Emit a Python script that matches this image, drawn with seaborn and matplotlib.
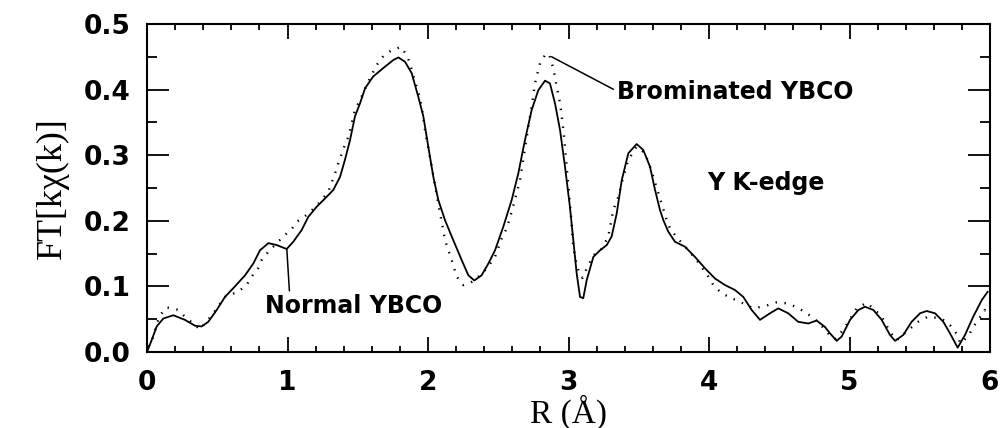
import pandas as pd
import seaborn as sns
import matplotlib.pyplot as plt
from matplotlib.ticker import MultipleLocator, FormatStrFormatter

# Normal YBCO (solid line)
r_normal = [0.0, 0.033, 0.069, 0.116, 0.187, 0.27, 0.342, 0.389, 0.436, 0.496,
            0.555, 0.626, 0.698, 0.757, 0.804, 0.864, 0.923, 0.994, 1.041, 1.101,
            1.148, 1.208, 1.267, 1.326, 1.374, 1.409, 1.445, 1.48, 1.516, 1.552,
            1.61, 1.694, 1.753, 1.789, 1.836, 1.884, 1.931, 1.967, 2.002, 2.038,
            2.073, 2.121, 2.169, 2.24, 2.287, 2.33, 2.382, 2.43, 2.477, 2.536,
            2.596, 2.643, 2.69, 2.738, 2.785, 2.833, 2.868, 2.904, 2.94, 2.975,
            3.01, 3.034, 3.058, 3.082, 3.105, 3.13, 3.177, 3.224, 3.272, 3.307,
            3.343, 3.379, 3.426, 3.485, 3.532, 3.58, 3.616, 3.651, 3.675, 3.71,
            3.758, 3.829, 3.9, 3.972, 4.043, 4.114, 4.185, 4.244, 4.304, 4.363,
            4.434, 4.493, 4.564, 4.635, 4.707, 4.766, 4.826, 4.861, 4.909, 4.944,
            5.004, 5.063, 5.11, 5.17, 5.229, 5.288, 5.324, 5.383, 5.442, 5.502,
            5.549, 5.609, 5.668, 5.715, 5.77, 5.822, 5.881, 5.941, 5.984]
ft_normal = [0.0, 0.018, 0.039, 0.051, 0.056, 0.049, 0.040, 0.039, 0.046, 0.064,
             0.084, 0.100, 0.117, 0.135, 0.155, 0.166, 0.163, 0.157, 0.168, 0.186,
             0.206, 0.2215, 0.234, 0.247, 0.267, 0.293, 0.323, 0.359, 0.379, 0.402,
             0.42, 0.435, 0.445, 0.449, 0.4425, 0.425, 0.389, 0.359, 0.313, 0.267,
             0.232, 0.201, 0.176, 0.140, 0.117, 0.109, 0.117, 0.135, 0.155, 0.191,
             0.232, 0.2725, 0.323, 0.369, 0.399, 0.4136, 0.4095, 0.379, 0.338, 0.2825,
             0.2215, 0.171, 0.12, 0.084, 0.082, 0.11, 0.145, 0.155, 0.163, 0.176,
             0.211, 0.262, 0.303, 0.317, 0.308, 0.2825, 0.247, 0.2165, 0.201, 0.1835,
             0.168, 0.1605, 0.145, 0.1275, 0.112, 0.102, 0.0945, 0.084, 0.064, 0.049,
             0.059, 0.0665, 0.059, 0.046, 0.0435, 0.048, 0.038, 0.0285, 0.017, 0.0235,
             0.049, 0.064, 0.069, 0.064, 0.049, 0.026, 0.017, 0.026, 0.046, 0.059,
             0.0625, 0.059, 0.046, 0.0285, 0.0066, 0.026, 0.054, 0.079, 0.092]

# Brominated YBCO (dotted line)
r_brom = [0.01, 0.045, 0.069, 0.093, 0.14, 0.211, 0.27, 0.377, 0.472, 0.555,
          0.65, 0.709, 0.745, 0.792, 0.816, 0.864, 0.97, 1.03, 1.077, 1.15,
          1.22, 1.29, 1.338, 1.362, 1.409, 1.433, 1.48, 1.516, 1.575, 1.635,
          1.682, 1.741, 1.808, 1.848, 1.872, 1.907, 1.931, 1.955, 1.979, 2.02,
          2.073, 2.097, 2.121, 2.145, 2.169, 2.204, 2.251, 2.30, 2.36, 2.42,
          2.477, 2.524, 2.56, 2.596, 2.655, 2.69, 2.738, 2.762, 2.797, 2.833,
          2.86, 2.892, 2.916, 2.94, 2.964, 2.987, 3.018, 3.034, 3.058, 3.082,
          3.1, 3.14, 3.189, 3.237, 3.283, 3.319, 3.355, 3.39, 3.426, 3.485,
          3.545, 3.592, 3.64, 3.699, 3.722, 3.77, 3.853, 3.912, 3.995, 4.031,
          4.09, 4.162, 4.244, 4.315, 4.399, 4.482, 4.564, 4.64, 4.712, 4.78,
          4.85, 4.9, 4.96, 5.051, 5.122, 5.181, 5.229, 5.29, 5.336, 5.40,
          5.489, 5.56, 5.655, 5.715, 5.763, 5.79, 5.846, 5.881, 5.917, 5.96,
          6.0]
ft_brom = [0.008, 0.023, 0.043, 0.056, 0.068, 0.065, 0.054, 0.0345, 0.059, 0.084,
           0.092, 0.102, 0.115, 0.128, 0.140, 0.153, 0.176, 0.1875, 0.200, 0.211,
           0.226, 0.244, 0.272, 0.2875, 0.316, 0.328, 0.369, 0.384, 0.412, 0.4375,
           0.451, 0.460, 0.465, 0.4525, 0.44, 0.412, 0.397, 0.374, 0.338, 0.29,
           0.2265, 0.199, 0.171, 0.155, 0.140, 0.115, 0.102, 0.105, 0.115, 0.128,
           0.145, 0.173, 0.1885, 0.214, 0.262, 0.31, 0.375, 0.41, 0.44, 0.4527,
           0.455, 0.4325, 0.4045, 0.379, 0.338, 0.2825, 0.206, 0.16, 0.1325, 0.117,
           0.113, 0.1325, 0.15, 0.1575, 0.176, 0.2165, 0.237, 0.267, 0.293, 0.313,
           0.303, 0.275, 0.242, 0.201, 0.1885, 0.175, 0.155, 0.14, 0.115, 0.102,
           0.0895, 0.082, 0.074, 0.0665, 0.070, 0.0757, 0.074, 0.0665, 0.0565, 0.045,
           0.028, 0.02, 0.035, 0.0665, 0.075, 0.064, 0.054, 0.03, 0.018, 0.03,
           0.046, 0.054, 0.051, 0.041, 0.0275, 0.013, 0.0244, 0.0386, 0.049, 0.064,
           0.06]

x_ticks = [0, 1, 2, 3, 4, 5, 6]
y_ticks = [0.0, 0.1, 0.2, 0.3, 0.4, 0.5]

normal = pd.DataFrame({"R": r_normal, "FT": ft_normal})
brom = pd.DataFrame({"R": r_brom, "FT": ft_brom})

sns.set_style("ticks")
sans = ["DejaVu Sans"]
serif = ["Liberation Serif", "DejaVu Serif"]

fig = plt.figure(figsize=(10.02, 4.28), dpi=100)
ax = fig.add_axes([147 / 1002, 1 - 352 / 428, 843 / 1002, 328 / 428])

sns.lineplot(data=normal, x="R", y="FT", ax=ax, color="black", lw=1.3,
             sort=False, estimator=None)
sns.lineplot(data=brom, x="R", y="FT", ax=ax, color="black", lw=1.7,
             linestyle=(0, (0.6, 3.2)), sort=False, estimator=None)

ax.set_xlim(0, 6)
ax.set_ylim(0, 0.5)
ax.set_xticks(x_ticks)
ax.set_yticks(y_ticks)
ax.xaxis.set_minor_locator(MultipleLocator(0.2))
ax.yaxis.set_minor_locator(MultipleLocator(0.05))
ax.yaxis.set_major_formatter(FormatStrFormatter("%.1f"))

for s in ax.spines.values():
    s.set_linewidth(1.5)
    s.set_color("black")

ax.tick_params(which="both", direction="in", top=True, right=True,
               color="black", width=1.3)
ax.tick_params(axis="x", which="major", length=11, pad=13)
ax.tick_params(axis="x", which="minor", length=4.5)
ax.tick_params(axis="y", which="major", length=16, pad=12)
ax.tick_params(axis="y", which="minor", length=7)
for lab in ax.get_xticklabels() + ax.get_yticklabels():
    lab.set_fontfamily(sans)
    lab.set_fontweight("bold")
    lab.set_fontsize(19)
    lab.set_color("black")

ax.set_xlabel("R (Å)", family=serif, fontsize=24, labelpad=-1, color="black")
ax.set_ylabel("FT[kχ(k)]", family=serif, fontsize=26, labelpad=10, color="black")

ax.annotate("Normal YBCO", xy=(0.995, 0.157), xytext=(0.84, 0.070),
            va="center", ha="left", family=sans, fontweight="bold", fontsize=17,
            color="black",
            arrowprops=dict(arrowstyle="-", lw=1.1, color="black",
                            shrinkA=0, shrinkB=0, relpos=(0.14, 0.85)))
ax.annotate("Brominated YBCO", xy=(2.88, 0.45), xytext=(3.343, 0.396),
            va="center", ha="left", family=sans, fontweight="bold", fontsize=17,
            color="black",
            arrowprops=dict(arrowstyle="-", lw=1.1, color="black",
                            shrinkA=0, shrinkB=0, relpos=(0.0, 0.55)))
ax.text(3.99, 0.258, "Y K-edge", va="center", ha="left", family=sans,
        fontweight="bold", fontsize=17, color="black")

fig.savefig("out.png", dpi=100)
